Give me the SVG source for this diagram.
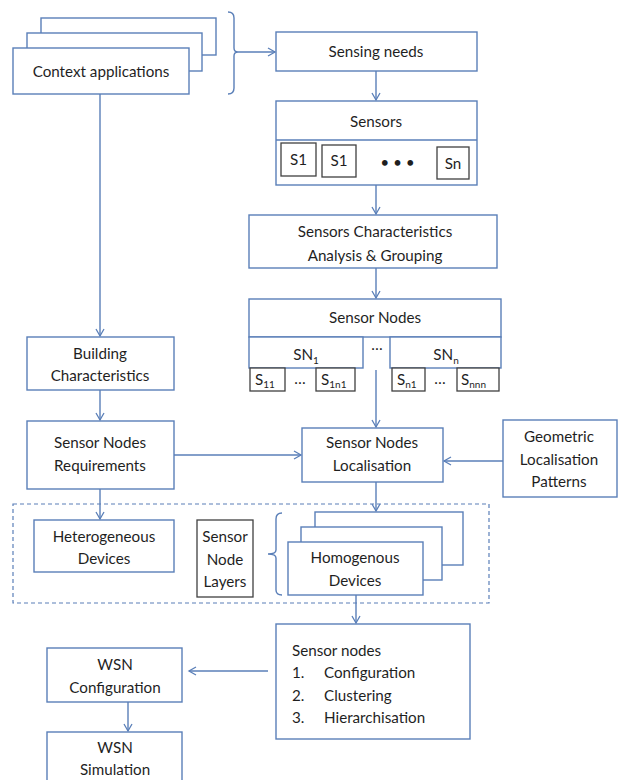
<svg xmlns="http://www.w3.org/2000/svg" width="622" height="780" viewBox="0 0 622 780">
  <style>
    .box { fill: #ffffff; stroke: #5a7fb8; stroke-width: 1.4; }
    .dark { fill: #ffffff; stroke: #404040; stroke-width: 1.3; }
    .conn { fill: none; stroke: #5a7fb8; stroke-width: 1.4; }
    .dash { fill: none; stroke: #5a7fb8; stroke-width: 1.2; stroke-dasharray: 4 3; }
    text { font-family: Lato, "Liberation Sans", sans-serif; font-size: 15.2px; fill: #1f1f1f; }
    .c { text-anchor: middle; }
    .sub { font-size: 10px; }
  </style>
  <defs>
    <marker id="arrow" markerWidth="10" markerHeight="10" refX="8" refY="5" orient="auto" markerUnits="userSpaceOnUse">
      <path d="M1,1 L8,5 L1,9" fill="none" stroke="#5a7fb8" stroke-width="1.3"/>
    </marker>
  </defs>

  <rect width="622" height="780" fill="#ffffff"/>

  <!-- dashed layer container -->
  <rect class="dash" x="13" y="504" width="476" height="99"/>

  <!-- connectors -->
  <g id="connectors">
    <path class="conn" d="M228,12 Q234,12 234,18 L234,48 Q234,52 238,52 Q234,52 234,56 L234,88 Q234,94 228,94"/>
    <line class="conn" x1="238" y1="52" x2="275" y2="52" marker-end="url(#arrow)"/>
    <line class="conn" x1="376" y1="71" x2="376" y2="100" marker-end="url(#arrow)"/>
    <line class="conn" x1="376" y1="185" x2="376" y2="214" marker-end="url(#arrow)"/>
    <line class="conn" x1="376" y1="268" x2="376" y2="298" marker-end="url(#arrow)"/>
    <line class="conn" x1="376" y1="370" x2="376" y2="427" marker-end="url(#arrow)"/>
    <line class="conn" x1="100" y1="94" x2="100" y2="336" marker-end="url(#arrow)"/>
    <line class="conn" x1="100" y1="390" x2="100" y2="420" marker-end="url(#arrow)"/>
    <line class="conn" x1="100" y1="489" x2="100" y2="519" marker-end="url(#arrow)"/>
    <line class="conn" x1="174" y1="455" x2="301" y2="455" marker-end="url(#arrow)"/>
    <line class="conn" x1="503" y1="461" x2="444" y2="461" marker-end="url(#arrow)"/>
    <line class="conn" x1="376" y1="482" x2="376" y2="511" marker-end="url(#arrow)"/>
    <line class="conn" x1="356" y1="595" x2="356" y2="623" marker-end="url(#arrow)"/>
    <line class="conn" x1="268" y1="671" x2="189" y2="671" marker-end="url(#arrow)"/>
    <line class="conn" x1="128" y1="702" x2="128" y2="731" marker-end="url(#arrow)"/>
    <path class="conn" d="M282,513 Q276,513 276,519 L276,550 Q276,554 268,554 Q276,554 276,558 L276,590 Q276,595 282,595"/>
  </g>

  <g id="context-applications">
    <rect class="box" x="41" y="18" width="175" height="37"/>
    <rect class="box" x="27" y="33" width="175" height="38"/>
    <rect class="box" x="13" y="48" width="176" height="46"/>
    <text class="c" x="101" y="77">Context applications</text>
  </g>

  <g id="sensing-needs">
    <rect class="box" x="276" y="32" width="201" height="39"/>
    <text class="c" x="376" y="57">Sensing needs</text>
  </g>

  <g id="sensors">
    <rect class="box" x="276" y="101" width="201" height="84"/>
    <line class="box" x1="276" y1="140" x2="477" y2="140"/>
    <text class="c" x="376" y="127">Sensors</text>
    <rect class="dark" x="281" y="143" width="35" height="33"/>
    <text class="c" x="298.5" y="165">S1</text>
    <rect class="dark" x="322" y="145" width="34" height="32"/>
    <text class="c" x="339" y="166">S1</text>
    <text class="c" x="398" y="167" style="font-size:13px;font-weight:bold;letter-spacing:1px">• • •</text>
    <rect class="dark" x="437" y="147" width="32" height="32"/>
    <text class="c" x="453" y="169">Sn</text>
  </g>

  <g id="characteristics-analysis">
    <rect class="box" x="249" y="215" width="248" height="53"/>
    <text class="c" x="375" y="237">Sensors Characteristics</text>
    <text class="c" x="375" y="261">Analysis &amp; Grouping</text>
  </g>

  <g id="sensor-nodes">
    <rect class="box" x="249" y="299" width="252" height="38"/>
    <text class="c" x="375" y="323">Sensor Nodes</text>
    <rect class="box" x="249" y="337" width="114" height="31"/>
    <text class="c" x="306" y="360">SN<tspan class="sub" dy="4">1</tspan></text>
    <rect class="box" x="390" y="337" width="111" height="31"/>
    <text class="c" x="446" y="360">SN<tspan class="sub" dy="4">n</tspan></text>
    <text class="c" x="377" y="350">…</text>
    <rect class="dark" x="250" y="368" width="35" height="23"/>
    <text x="255" y="385">S<tspan class="sub" dy="3">11</tspan></text>
    <text class="c" x="300" y="384">…</text>
    <rect class="dark" x="316" y="368" width="39" height="23"/>
    <text x="321" y="385">S<tspan class="sub" dy="3">1n1</tspan></text>
    <rect class="dark" x="392" y="368" width="33" height="23"/>
    <text x="397" y="385">S<tspan class="sub" dy="3">n1</tspan></text>
    <text class="c" x="440" y="384">…</text>
    <rect class="dark" x="457" y="368" width="42" height="23"/>
    <text x="461" y="385">S<tspan class="sub" dy="3">nnn</tspan></text>
  </g>

  <g id="building-characteristics">
    <rect class="box" x="27" y="337" width="147" height="53"/>
    <text class="c" x="100" y="359">Building</text>
    <text class="c" x="100" y="381">Characteristics</text>
  </g>

  <g id="nodes-requirements">
    <rect class="box" x="27" y="421" width="147" height="68"/>
    <text class="c" x="100" y="448">Sensor Nodes</text>
    <text class="c" x="100" y="471">Requirements</text>
  </g>

  <g id="nodes-localisation">
    <rect class="box" x="302" y="428" width="141" height="54"/>
    <text class="c" x="372" y="448">Sensor Nodes</text>
    <text class="c" x="372" y="471">Localisation</text>
  </g>

  <g id="geometric-patterns">
    <rect class="box" x="503" y="420" width="114" height="77"/>
    <text class="c" x="559" y="442">Geometric</text>
    <text class="c" x="559" y="465">Localisation</text>
    <text class="c" x="559" y="487">Patterns</text>
  </g>

  <g id="heterogeneous-devices">
    <rect class="box" x="34" y="520" width="140" height="52"/>
    <text class="c" x="104" y="542">Heterogeneous</text>
    <text class="c" x="104" y="564">Devices</text>
  </g>

  <g id="node-layers">
    <rect class="dark" x="197" y="520" width="56" height="77"/>
    <text class="c" x="225" y="542">Sensor</text>
    <text class="c" x="225" y="565">Node</text>
    <text class="c" x="225" y="587">Layers</text>
  </g>

  <g id="homogenous-devices">
    <rect class="box" x="315" y="512" width="148" height="53"/>
    <rect class="box" x="301" y="527" width="141" height="53"/>
    <rect class="box" x="288" y="542" width="135" height="53"/>
    <text class="c" x="355" y="563">Homogenous</text>
    <text class="c" x="355" y="586">Devices</text>
  </g>

  <g id="node-processing">
    <rect class="box" x="276" y="624" width="194" height="115"/>
    <text x="292" y="656">Sensor nodes</text>
    <text x="292" y="678">1.</text>
    <text x="324" y="678">Configuration</text>
    <text x="292" y="701">2.</text>
    <text x="324" y="701">Clustering</text>
    <text x="292" y="723">3.</text>
    <text x="324" y="723">Hierarchisation</text>
  </g>

  <g id="wsn-configuration">
    <rect class="box" x="47" y="648" width="135" height="54"/>
    <text class="c" x="115" y="670">WSN</text>
    <text class="c" x="115" y="693">Configuration</text>
  </g>

  <g id="wsn-simulation">
    <rect class="box" x="47" y="732" width="135" height="60"/>
    <text class="c" x="115" y="753">WSN</text>
    <text class="c" x="115" y="775">Simulation</text>
  </g>
</svg>
